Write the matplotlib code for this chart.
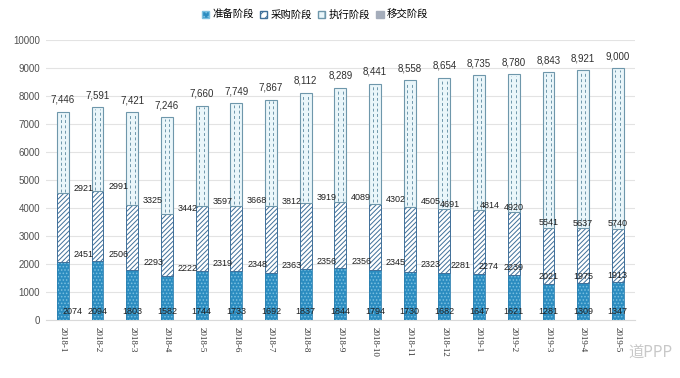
import numpy as np
import matplotlib
matplotlib.use("Agg")
import matplotlib.pyplot as plt
from matplotlib.patches import Patch

plt.rcParams['font.family'] = ['Liberation Sans', 'Noto Sans CJK SC', 'DejaVu Sans']
plt.rcParams['hatch.linewidth'] = 0.7

# -----------------------------
# Data
# -----------------------------
months = ["2018-1", "2018-2", "2018-3", "2018-4", "2018-5", "2018-6", "2018-7",
          "2018-8", "2018-9", "2018-10", "2018-11", "2018-12", "2019-1", "2019-2",
          "2019-3", "2019-4", "2019-5"]
prep = [2074, 2094, 1803, 1582, 1744, 1733, 1692, 1837, 1844, 1794, 1730, 1682,
        1647, 1621, 1281, 1309, 1347]
purchase = [2451, 2506, 2293, 2222, 2319, 2348, 2363, 2356, 2356, 2345, 2323, 2281,
            2274, 2239, 2021, 1975, 1913]
execute = [2921, 2991, 3325, 3442, 3597, 3668, 3812, 3919, 4089, 4302, 4505, 4691,
           4814, 4920, 5541, 5637, 5740]
handover = [0] * 17
series_names = ["准备阶段", "采购阶段", "执行阶段", "移交阶段"]

# label nudges (in category units), the source had hand placed labels
dx1 = [0.29] + [0] * 16
dx2 = [0.6] * 11 + [0.46, 0.26, 0, 0, 0, 0]
dx3 = [0.6] * 11 + [0.15, 0.3, 0, 0, 0, 0]

x = np.arange(len(months))
prep = np.array(prep)
purchase = np.array(purchase)
execute = np.array(execute)
handover = np.array(handover)
total = prep + purchase + execute + handover

# -----------------------------
# Plot
# -----------------------------
fig = plt.figure(figsize=(6.8, 3.78), dpi=100)
ax = fig.add_axes([0.067, 0.1534, 0.867, 0.7407])

w = 0.34
c_prep = '#2b8cc0'
c_exec = '#6e97ab'
ax.bar(x, prep, w, color=c_prep, edgecolor='#7cc0e0', hatch='.....', linewidth=0, zorder=3)
ax.bar(x, prep, w, fill=False, edgecolor='#2a7fb0', linewidth=0.6, zorder=3)
ax.bar(x, purchase, w, bottom=prep, color='white', edgecolor='#3f6f99', hatch='///////',
       linewidth=0.7, zorder=3)
ax.bar(x, execute, w, bottom=prep + purchase, color='#eaf6fa', edgecolor=c_exec,
       linewidth=0.8, zorder=3)
# dashed texture of the execution segment
for off in (-w / 5, w / 5):
    ax.vlines(x + off, prep + purchase + 60, total - 60, colors=c_exec, linewidth=0.7,
              linestyles=(0, (3, 2.5)), zorder=3.5)
ax.bar(x, handover, w, bottom=prep + purchase + execute, color='#a5adbb', zorder=3)

fs = 6.5
for i in range(len(x)):
    ax.text(x[i] + dx1[i], 320, str(prep[i]), ha='center', va='center', fontsize=fs, color='#202020', zorder=4)
    ax.text(x[i] + dx2[i], prep[i] + 260, str(purchase[i]), ha='center', va='center', fontsize=fs, color='#202020', zorder=4)
    ax.text(x[i] + dx3[i], prep[i] + purchase[i] + 170, str(execute[i]), ha='center', va='center', fontsize=fs, color='#202020', zorder=4)
    ax.annotate(f"{total[i]:,}", (x[i], total[i]), xytext=(0, 5), textcoords='offset points',
                ha='center', va='bottom', fontsize=7, color='#303030')

ax.set_xlim(-0.5, len(x) - 0.5)
ax.set_ylim(0, 10000)
ax.set_yticks(np.arange(0, 10001, 1000))
ax.yaxis.grid(True, color='#e3e3e3', linewidth=0.8, zorder=0)
ax.set_axisbelow(True)
for s in ['top', 'right', 'left']:
    ax.spines[s].set_visible(False)
ax.spines['bottom'].set_color('#d9d9d9')
ax.tick_params(axis='y', length=0, labelsize=7, labelcolor='#505050', pad=4)
ax.tick_params(axis='x', length=0, pad=5)
ax.set_xticks(x)
ax.set_xticklabels(months, rotation=270, fontsize=6.5, color='#303030',
                   family=['Liberation Serif', 'DejaVu Serif'])

handles = [
    Patch(facecolor=c_prep, edgecolor='#7cc0e0', hatch='....'),
    Patch(facecolor='white', edgecolor='#3f6f99', hatch='////'),
    Patch(facecolor='#eaf6fa', edgecolor=c_exec, hatch='|'),
    Patch(facecolor='#a5adbb', edgecolor='#a5adbb'),
]
fig.legend(handles, series_names, loc='center', bbox_to_anchor=(315 / 680, 1 - 15 / 378),
           ncol=4, frameon=False, fontsize=7.5, handlelength=0.7, handleheight=0.7,
           handletextpad=0.3, columnspacing=0.6)

# watermark
fig.text(628 / 680, 1 - 352 / 378, "道PPP", fontsize=11, color='#c8c8c8', va='center',
         family=['Noto Sans CJK SC', 'DejaVu Sans'])

fig.savefig("out.png", dpi=100, facecolor='white')
